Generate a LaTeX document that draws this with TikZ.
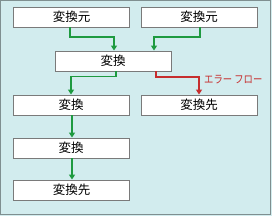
\documentclass[tikz,border=0pt]{standalone}
\usepackage{fontspec}
\newfontfamily\jp{Noto Sans CJK JP}
\usetikzlibrary{arrows.meta}
\definecolor{bgc}{HTML}{D2ECEE}
\definecolor{frm}{HTML}{7F8F90}
\definecolor{boxb}{HTML}{7A7A7A}
\definecolor{grn}{HTML}{1E9A40}
\definecolor{rd}{HTML}{C62E2E}
\tikzset{
  box/.style={draw=boxb, line width=0.9pt, fill=white, minimum width=116pt, minimum height=20pt, inner sep=0pt, font=\jp\fontsize{12.5pt}{14pt}\selectfont},
  flow/.style={draw=grn, line width=1.3pt, -{Triangle[length=5pt,width=6pt]}},
  errflow/.style={draw=rd, line width=1.3pt, -{Triangle[length=5pt,width=6pt]}},
}
\begin{document}
\begin{tikzpicture}[x=1pt,y=-1pt]
\useasboundingbox (0,0) rectangle (272,216);
\fill[bgc] (0,0) rectangle (272,216);
\draw[frm, line width=1pt] (0.5,0.5) rectangle (270.5,214.5);
\node[box] (s1) at (71.5,17) {変換元};
\node[box] (s2) at (199,17) {変換元};
\node[box] (m) at (113,61) {変換};
\node[box] (l1) at (71,105) {変換};
\node[box] (r1) at (199,105) {変換先};
\node[box] (l2) at (71,148) {変換};
\node[box] (l3) at (71.5,190) {変換先};
\coordinate (a1) at (70,37);
\coordinate (a2) at (114,37);
\coordinate (b1) at (200,37);
\coordinate (b2) at (154,37);
\coordinate (c1) at (116,76.5);
\coordinate (c2) at (71,76.5);
\coordinate (d1) at (156,77);
\coordinate (d2) at (199,77);
\coordinate (v) at (72,0);
\draw[flow] (s1.south -| a1) -- (a1) -- (a2) -- (a2 |- m.north);
\draw[flow] (s2.south -| b1) -- (b1) -- (b2) -- (b2 |- m.north);
\draw[flow] (m.south -| c1) -- (c1) -- (c2) -- (c2 |- l1.north);
\draw[errflow] (m.south -| d1) -- (d1) -- (d2) -- (d2 |- r1.north);
\draw[flow] (l1.south -| v) -- (l2.north -| v);
\draw[flow] (l2.south -| v) -- (l3.north -| v);
\node[anchor=west, text=rd, inner sep=0pt, font=\jp\fontsize{11pt}{13pt}\selectfont] (el) at (204,80) {\scalebox{0.85}[1]{エラー フロー}};
\end{tikzpicture}
\end{document}
